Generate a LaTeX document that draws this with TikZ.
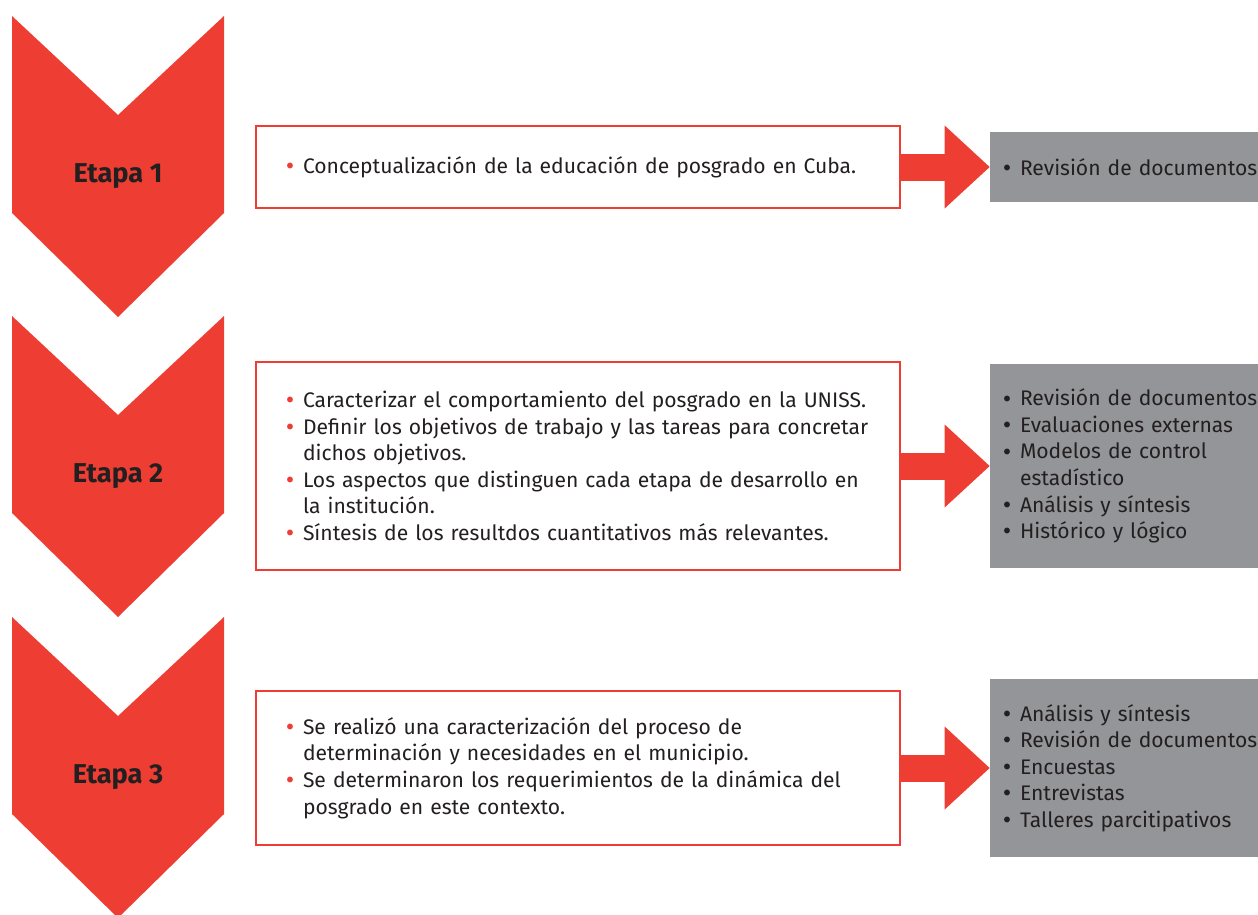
\documentclass[tikz,border=0pt]{standalone}
\usepackage{fontspec}
\setmainfont{Fira Sans}
\usetikzlibrary{arrows.meta}
\definecolor{stagered}{HTML}{EE3E33}
\definecolor{methodgray}{HTML}{939598}
\definecolor{textdark}{HTML}{231F20}
\newlength{\px}
\setlength{\px}{0.02cm}
\newcommand{\bigdot}{\raisebox{2.2pt}{\fontsize{8}{8}\selectfont$\bullet$}}
\newcommand{\taskitem}{\makebox[26\px][c]{\textcolor{stagered}{\bigdot}}}
\newcommand{\methoditem}{\hspace*{4\px}\makebox[26\px][c]{\bigdot}}
\newcommand{\itemgap}{\hspace*{26\px}}
\newcommand{\methodgap}{\hspace*{30\px}}

\begin{document}
\begin{tikzpicture}
[x=0.02cm,y=-0.02cm,
  chevrondecorate/.style={fill=stagered},
  stagedecorate/.style={anchor=base,text=textdark,
    font=\fontsize{15.5}{18}\selectfont\bfseries},
  taskdecorate/.style={draw=stagered,line width=2\px,text=textdark,
    text width=602\px,inner xsep=21\px,minimum width=644\px,align=left,
    font=\fontsize{12}{15.1}\selectfont},
  methoddecorate/.style={fill=methodgray,text=textdark,
    text width=268\px,inner xsep=0pt,minimum width=268\px,align=left,
    font=\fontsize{12}{15.1}\selectfont},
  arrowdecorate/.style={draw=stagered,line width=0.54cm,
    -{Triangle[length=0.9cm,width=1.66cm,line width=0pt]}}]
\useasboundingbox (0,0) rectangle (1258,914);
%% stage chevrons
\foreach \stagenum/\y in {1/16, 2/316, 3/617} {
  \fill[chevrondecorate] (12,\y) -- (118,\y+99) -- (224,\y) -- (224,\y+197)
    -- (118,\y+301) -- (12,\y+197) -- cycle;
  \node (etapa\stagenum) at (118,\y+166) [stagedecorate] {Etapa \stagenum};
}
%% task boxes
\node (task1) at (578,167) [taskdecorate,minimum height=82\px]
  {\taskitem Conceptualización de la educación de posgrado en Cuba.};
\node (task2) at (578,466) [taskdecorate,minimum height=208\px]
  {\taskitem Caracterizar el comportamiento del posgrado en la UNISS.\\
   \taskitem Definir los objetivos de trabajo y las tareas para concretar\\
   \itemgap dichos objetivos.\\
   \taskitem Los aspectos que distinguen cada etapa de desarrollo en\\
   \itemgap la institución.\\
   \taskitem Síntesis de los resultdos cuantitativos más relevantes.};
\node (task3) at (578,768) [taskdecorate,minimum height=154\px]
  {\taskitem Se realizó una caracterización del proceso de\\
   \itemgap determinación y necesidades en el municipio.\\
   \taskitem Se determinaron los requerimientos de la dinámica del\\
   \itemgap posgrado en este contexto.};
%% method boxes
\node (method1) at (1124,167) [methoddecorate,minimum height=70\px]
  {\methoditem \mbox{Revisión de documentos}};
\node (method2) at (1124,466) [methoddecorate,minimum height=204\px]
  {\methoditem \mbox{Revisión de documentos}\\
   \methoditem Evaluaciones externas\\
   \methoditem Modelos de control\\
   \methodgap estadístico\\
   \methoditem Análisis y síntesis\\
   \methoditem Histórico y lógico};
\node (method3) at (1124,768) [methoddecorate,minimum height=178\px]
  {\methoditem Análisis y síntesis\\
   \methoditem \mbox{Revisión de documentos}\\
   \methoditem Encuestas\\
   \methoditem Entrevistas\\
   \methoditem Talleres parcitipativos};
%% block arrows
\foreach \startnode/\endnode in {task1/method1, task2/method2, task3/method3} {
  \draw[arrowdecorate] (\startnode.east) -- (\endnode.west);
}
\end{tikzpicture}
\end{document}
